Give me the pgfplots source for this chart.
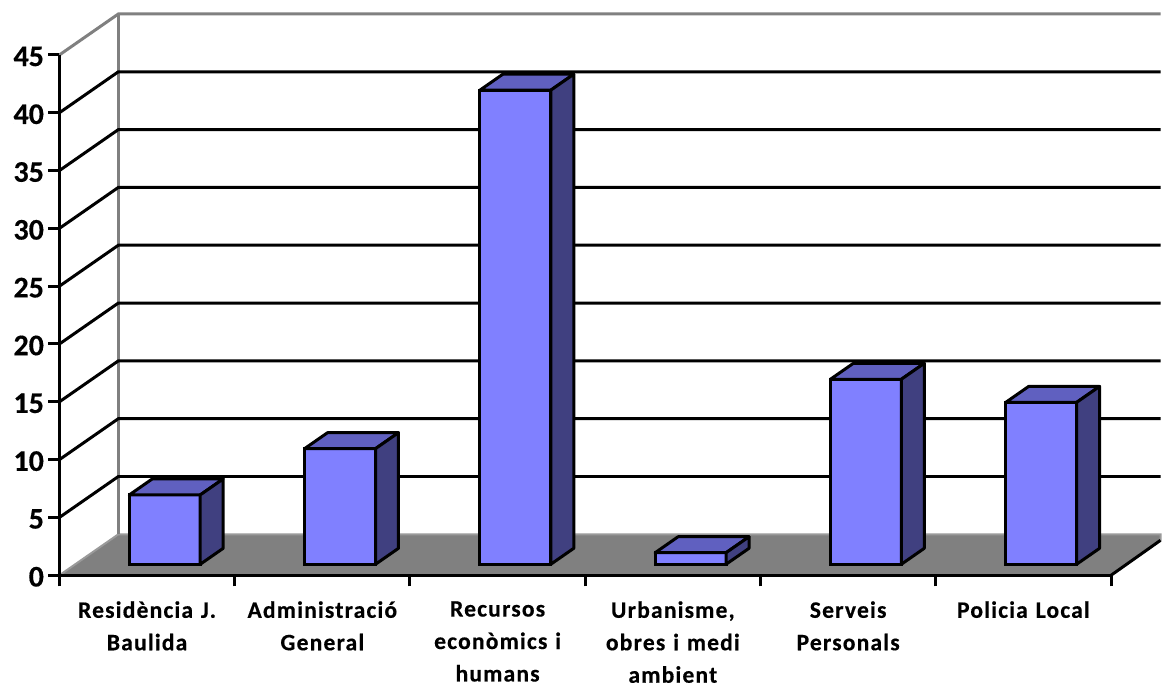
\documentclass[border=0pt]{standalone}
\usepackage{fontspec}
\setmainfont[LetterSpace=5,BoldFeatures={FakeBold=0.4}]{Carlito}
\newfontfamily\numfont[BoldFeatures={FakeBold=0.4}]{Carlito}
\usepackage{pgfplots}
\pgfplotsset{compat=1.18}
\definecolor{barfront}{HTML}{8080FF}
\definecolor{bartop}{HTML}{6060C0}
\definecolor{barside}{HTML}{404080}
\definecolor{wallgray}{HTML}{808080}
\definecolor{flooredge}{HTML}{9A9A9A}
\pgfplotsset{
  barface/.style={draw=black, line width=3pt, line join=round, xshift=17.75pt, yshift=11pt},
  topface/.style={barface, fill=bartop},
  sideface/.style={barface, fill=barside},
}
\begin{document}
\begin{tikzpicture}
\begin{axis}[
  x=175.5pt, y=11.578pt,
  xmin=0, xmax=6, ymin=0, ymax=45,
  clip=false, axis on top,
  axis x line=bottom, axis y line=left,
  axis line style={-, line width=3pt, black},
  xtick={0,1,2,3,4,5,6},
  ytick={0,5,10,15,20,25,30,35,40,45},
  x tick label as interval,
  xticklabels={{Residència J.\\Baulida},{Administració\\General},{Recursos\\econòmics i\\humans},{Urbanisme,\\obres i medi\\ambient},{Serveis\\Personals},{Policia Local}},
  tick align=outside, major tick length=11pt,
  tick style={line width=3pt, black},
  /pgf/number format/assume math mode=true,
  xticklabel style={align=center, text width=172pt, anchor=north, font=\fontsize{23.6}{32.5}\selectfont\bfseries, yshift=-11.5pt},
  yticklabel style={font=\fontsize{30}{30}\selectfont\numfont\bfseries, xshift=-1pt, yshift=-1.5pt},
]
% invisible extent of the picture
\path (axis cs:-0.339,49.75) rectangle (axis cs:6.2821,-9.673);
% floor
\addplot[fill=wallgray, draw=flooredge, line width=2pt] coordinates {(0,0) (0.33618,3.541) (6.2821,3.541) (6.2821,3.023) (6,0)} -- cycle;
\addplot[black, line width=3pt] coordinates {(6,0) (6.2821,3.023)};
% walls
\addplot[wallgray, line width=3pt] coordinates {(0,45) (0.33618,48.541) (6.2821,48.541)};
\addplot[wallgray, line width=3pt] coordinates {(0.33618,48.541) (0.33618,3.541)};
% grid lines
\addplot[black, line width=3pt] coordinates {(0,5) (0.33618,8.541) (6.2821,8.541)};
\addplot[black, line width=3pt] coordinates {(0,10) (0.33618,13.541) (6.2821,13.541)};
\addplot[black, line width=3pt] coordinates {(0,15) (0.33618,18.541) (6.2821,18.541)};
\addplot[black, line width=3pt] coordinates {(0,20) (0.33618,23.541) (6.2821,23.541)};
\addplot[black, line width=3pt] coordinates {(0,25) (0.33618,28.541) (6.2821,28.541)};
\addplot[black, line width=3pt] coordinates {(0,30) (0.33618,33.541) (6.2821,33.541)};
\addplot[black, line width=3pt] coordinates {(0,35) (0.33618,38.541) (6.2821,38.541)};
\addplot[black, line width=3pt] coordinates {(0,40) (0.33618,43.541) (6.2821,43.541)};
% front faces
\addplot[ybar, bar width=71pt, fill=barfront, draw=black, line width=3pt, xshift=17.75pt, yshift=11pt]
  coordinates {(0.5,6) (1.5,10) (2.5,41) (3.5,1) (4.5,16) (5.5,14)};
% top faces
\addplot[topface] coordinates {(0.2977,6) (0.7023,6) (0.8334,7.382) (0.4288,7.382)} -- cycle;
\addplot[topface] coordinates {(1.2977,10) (1.7023,10) (1.8334,11.382) (1.4288,11.382)} -- cycle;
\addplot[topface] coordinates {(2.2977,41) (2.7023,41) (2.8334,42.382) (2.4288,42.382)} -- cycle;
\addplot[topface] coordinates {(3.2977,1) (3.7023,1) (3.8334,2.382) (3.4288,2.382)} -- cycle;
\addplot[topface] coordinates {(4.2977,16) (4.7023,16) (4.8334,17.382) (4.4288,17.382)} -- cycle;
\addplot[topface] coordinates {(5.2977,14) (5.7023,14) (5.8334,15.382) (5.4288,15.382)} -- cycle;
% side faces
\addplot[sideface] coordinates {(0.7023,0) (0.8334,1.382) (0.8334,7.382) (0.7023,6)} -- cycle;
\addplot[sideface] coordinates {(1.7023,0) (1.8334,1.382) (1.8334,11.382) (1.7023,10)} -- cycle;
\addplot[sideface] coordinates {(2.7023,0) (2.8334,1.382) (2.8334,42.382) (2.7023,41)} -- cycle;
\addplot[sideface] coordinates {(3.7023,0) (3.8334,1.382) (3.8334,2.382) (3.7023,1)} -- cycle;
\addplot[sideface] coordinates {(4.7023,0) (4.8334,1.382) (4.8334,17.382) (4.7023,16)} -- cycle;
\addplot[sideface] coordinates {(5.7023,0) (5.8334,1.382) (5.8334,15.382) (5.7023,14)} -- cycle;
\end{axis}
\end{tikzpicture}
\end{document}
